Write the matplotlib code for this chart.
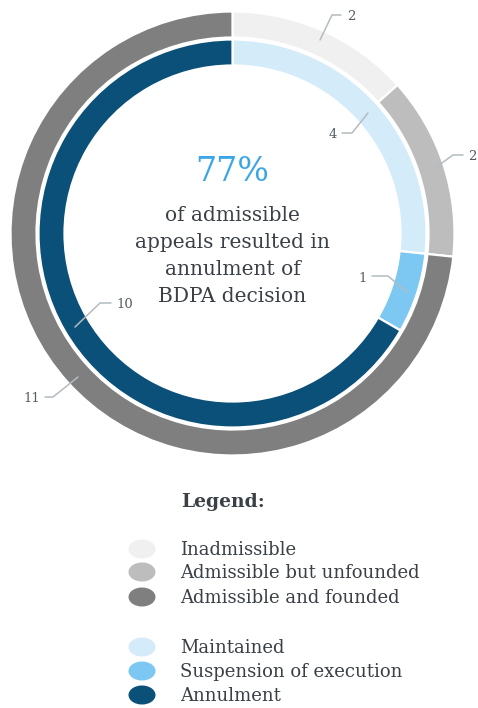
#!/usr/bin/env python3

# Appeals against BDPA decisions: two-ring donut with outcome breakdown

import matplotlib
matplotlib.use('Agg')
import matplotlib.pyplot as plt
from matplotlib.patches import Ellipse

outer_labels = ['Inadmissible', 'Admissible but unfounded', 'Admissible and founded']
outer_values = [2, 2, 11]
outer_colors = ['#f0f0f0', '#bdbdbd', '#7f7f7f']

inner_labels = ['Maintained', 'Suspension of execution', 'Annulment']
inner_values = [4, 1, 10]
inner_colors = ['#d4ebf9', '#7cc8f2', '#0a5079']

headline = '77%'
caption = 'of admissible\nappeals resulted in\nannulment of\nBDPA decision'

TEXT = '#3a4045'
LEADER = '#b3bcc1'
W, H = 478, 708


def graph():
    plt.rcParams['font.family'] = ['DejaVu Serif']
    fig = plt.figure(figsize=(W / 100, H / 100), dpi=100)

    # donut, centre at (232.5, 233.5) px, outer radius 222 px
    cx, cy, r = 232.5, 233.5, 222
    ax = fig.add_axes([(cx - r) / W, (H - cy - r) / H, 2 * r / W, 2 * r / H])
    ring = 26 / r
    wp = dict(width=ring, edgecolor='white', linewidth=1.6)
    ax.pie(outer_values, colors=outer_colors, radius=1.0, startangle=90,
           counterclock=False, wedgeprops=wp)
    ax.pie(inner_values, colors=inner_colors, radius=194 / r, startangle=90,
           counterclock=False, wedgeprops=wp)
    ax.set_xlim(-1, 1)
    ax.set_ylim(-1, 1)
    ax.set_aspect('equal')
    ax.axis('off')

    # overlay in pixel coordinates for labels and legend
    ov = fig.add_axes([0, 0, 1, 1])
    ov.set_xlim(0, W)
    ov.set_ylim(H, 0)
    ov.axis('off')
    ov.patch.set_alpha(0)

    # value labels with elbow leaders
    leaders = [
        (outer_values[0], [(320, 40), (332, 15), (341, 15)], (347, 16), 'left'),
        (outer_values[1], [(435, 168), (453, 155), (463, 155)], (468, 157), 'left'),
        (outer_values[2], [(78, 377), (53, 397), (45, 397)], (40, 399), 'right'),
        (inner_values[0], [(368, 113), (352, 133), (342, 133)], (337, 135), 'right'),
        (inner_values[1], [(407, 292), (388, 276), (372, 276)], (367, 278), 'right'),
        (inner_values[2], [(75, 327), (100, 303), (111, 303)], (116, 305), 'left'),
    ]
    for val, pts, tpos, ha in leaders:
        xs, ys = zip(*pts)
        ov.plot(xs, ys, color=LEADER, lw=1.1, solid_capstyle='round')
        ov.text(tpos[0], tpos[1], str(val), ha=ha, va='center',
                fontsize=9.5, color='#525b62')

    # centre text
    ov.text(cx, 172, headline, ha='center', va='center', fontsize=24,
            color='#3ba6e6')
    ov.text(cx, 256, caption, ha='center', va='center', fontsize=14.5,
            color=TEXT, linespacing=1.55)

    # legend
    ov.text(181, 502, 'Legend:', ha='left', va='center', fontsize=13.5,
            fontweight='bold', color=TEXT)
    rows = [549, 572, 597, 647, 671, 695]
    for y, lab, col in zip(rows, outer_labels + inner_labels,
                           outer_colors + inner_colors):
        ov.add_patch(Ellipse((142, y), 27, 19, facecolor=col, edgecolor='none'))
        ov.text(180, y + 1, lab, ha='left', va='center', fontsize=13,
                color=TEXT)

    fig.savefig('out.png', dpi=100, facecolor='white')


if __name__ == "__main__":
    graph()
